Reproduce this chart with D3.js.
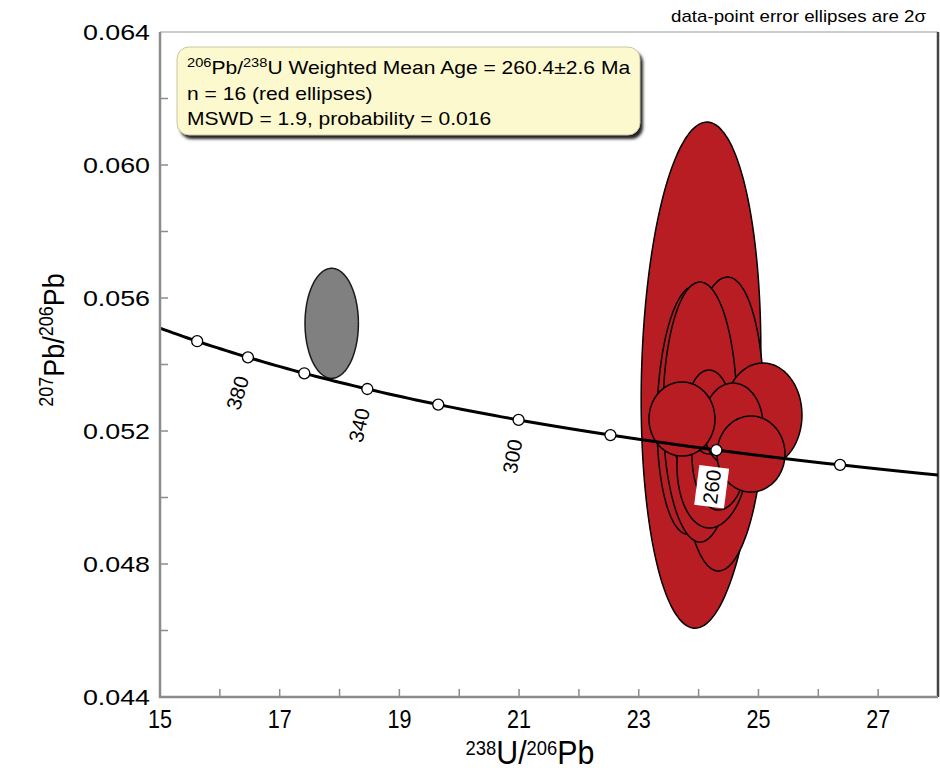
<!DOCTYPE html>
<html>
<head>
<meta charset="utf-8">
<script src="https://cdn.jsdelivr.net/npm/d3@7"></script>
<style>
  body { margin: 0; background: #fff; }
  svg { display: block; }
  text { font-family: "Liberation Sans", Arial, Helvetica, sans-serif; fill: #000; }
</style>
</head>
<body>
<svg id="chart" width="940" height="772"></svg>
<script>
// ---- axes ----
const xDomain = [15, 28];
const yDomain = [0.044, 0.064];
const xMinorTicks = [16, 17, 18, 19, 20, 21, 22, 23, 24, 25, 26, 27];
const xTickLabels = [15, 17, 19, 21, 23, 25, 27];
const yMinorTicks = [0.046, 0.048, 0.050, 0.052, 0.054, 0.056, 0.058, 0.060, 0.062];
const yTickLabels = [0.044, 0.048, 0.052, 0.056, 0.060, 0.064];

// ---- concordia (Tera-Wasserburg) ----
const LAMBDA238 = 1.55125e-10;
const LAMBDA235 = 9.8485e-10;
const U238_U235 = 137.88;
const concordiaAges = [240, 260, 280, 300, 320, 340, 360, 380, 400];
const labeledAges = [260, 300, 340, 380];

// ---- analyses: centre, 2-sigma errors, error correlation ----
// red = used in weighted mean (drawn in this order)
const redX    = [24.04, 24.106, 24.407, 23.872, 24.023, 23.939, 24.691, 24.440, 24.942, 24.240, 24.357, 25.075, 24.173, 24.574, 23.722, 24.875];
const redY    = [0.05368, 0.052932, 0.05221, 0.05263, 0.05257, 0.05203, 0.05203, 0.051579, 0.051729, 0.051188, 0.051368, 0.052481, 0.052571, 0.05218, 0.052361, 0.051308];
const redErrX = [1.0, 0.468, 0.685, 0.568, 0.618, 0.418, 0.418, 0.368, 0.418, 0.602, 0.468, 0.652, 0.368, 0.501, 0.551, 0.568];
const redErrY = [0.00761, 0.002857, 0.00442, 0.00373, 0.00391, 0.001203, 0.001053, 0.000902, 0.000902, 0.002105, 0.001744, 0.001564, 0.001263, 0.001263, 0.001113, 0.001143];
const redRho  = [0.10, 0.0, 0.11, 0.10, 0.0, 0.0, 0.0, 0.0, 0.0, 0.10, 0.05, 0.0, 0.0, 0.0, 0.0, 0.0];
// grey = rejected analysis
const greyX = [17.869];
const greyY = [0.055239];
const greyErrX = [0.446];
const greyErrY = [0.001654];
const greyRho = [0.0];

const legendLines = [
  [{t: "206", sup: true}, {t: "Pb/"}, {t: "238", sup: true}, {t: "U Weighted Mean Age = 260.4±2.6 Ma"}],
  [{t: "n = 16 (red ellipses)"}],
  [{t: "MSWD = 1.9, probability = 0.016"}]
];

// ---- layout ----
const svg = d3.select("#chart");
const plot = {left: 160, right: 938, top: 32, bottom: 697};
const x = d3.scaleLinear().domain(xDomain).range([plot.left, plot.right]);
const y = d3.scaleLinear().domain(yDomain).range([plot.bottom, plot.top]);

const defs = svg.append("defs");
defs.append("clipPath").attr("id", "plotClip")
  .append("rect").attr("x", plot.left).attr("y", plot.top)
  .attr("width", plot.right - plot.left).attr("height", plot.bottom - plot.top);
const blur = defs.append("filter").attr("id", "shadow").attr("x", -0.1).attr("y", -0.3).attr("width", 1.2).attr("height", 1.6);
blur.append("feGaussianBlur").attr("stdDeviation", 1.6);

// frame
svg.append("line").attr("x1", plot.left).attr("x2", plot.right).attr("y1", plot.top).attr("y2", plot.top)
  .attr("stroke", "#9a9a9a").attr("stroke-width", 1);
svg.append("line").attr("x1", plot.right).attr("x2", plot.right).attr("y1", plot.top).attr("y2", plot.bottom)
  .attr("stroke", "#444").attr("stroke-width", 2.5);

// ellipse outline from centre, errors and correlation
function ellipsePath(cx, cy, ex, ey, rho) {
  const s = Math.sqrt(1 - rho * rho);
  const pts = d3.range(0, 360, 2).map(a => {
    const t = a * Math.PI / 180;
    return [x(cx + ex * Math.cos(t)), y(cy + ey * (rho * Math.cos(t) + s * Math.sin(t)))];
  });
  return d3.line().curve(d3.curveCardinalClosed)(pts);
}

const gData = svg.append("g").attr("clip-path", "url(#plotClip)");
gData.selectAll("path.grey").data(greyX.map((v, i) => i)).join("path")
  .attr("class", "grey")
  .attr("d", i => ellipsePath(greyX[i], greyY[i], greyErrX[i], greyErrY[i], greyRho[i]))
  .attr("fill", "#808080").attr("stroke", "#1a1a1a").attr("stroke-width", 1.5);
gData.selectAll("path.red").data(redX.map((v, i) => i)).join("path")
  .attr("class", "red")
  .attr("d", i => ellipsePath(redX[i], redY[i], redErrX[i], redErrY[i], redRho[i]))
  .attr("fill", "#b81d24").attr("stroke", "#000").attr("stroke-width", 1.5);

// concordia curve
function tw(ageMa) {
  const t = ageMa * 1e6;
  const e8 = Math.expm1(LAMBDA238 * t);
  const e5 = Math.expm1(LAMBDA235 * t);
  return [1 / e8, e5 / e8 / U238_U235];
}
const curveAges = d3.range(220, 422, 2);
gData.append("path")
  .attr("d", d3.line().x(d => x(tw(d)[0])).y(d => y(tw(d)[1]))(curveAges))
  .attr("fill", "none").attr("stroke", "#000").attr("stroke-width", 3);

gData.selectAll("circle.age").data(concordiaAges).join("circle")
  .attr("class", "age")
  .attr("cx", d => x(tw(d)[0])).attr("cy", d => y(tw(d)[1])).attr("r", 5.5)
  .attr("fill", "#fff").attr("stroke", "#000").attr("stroke-width", 1.3);

// age labels, set perpendicular to the curve below each marker
const ageLabels = gData.selectAll("g.ageLabel").data(labeledAges).join("g")
  .attr("class", "ageLabel")
  .attr("transform", d => {
    const p = tw(d), q = tw(d - 1);
    const x0 = x(p[0]), y0 = y(p[1]);
    const ang = Math.atan2(y(q[1]) - y0, x(q[0]) - x0);
    const nx = -Math.sin(ang), ny = Math.cos(ang);
    const off = 37;
    return `translate(${x0 + nx * off},${y0 + ny * off}) rotate(${ang * 180 / Math.PI - 90})`;
  });
ageLabels.append("rect").attr("x", -20).attr("y", -15).attr("width", 40).attr("height", 30).attr("fill", "#fff");
ageLabels.append("text").attr("text-anchor", "middle").attr("dy", "0.36em")
  .style("font-size", "20.5px").text(d => d);

// axes
const axisColor = "#8c8c8c";
svg.append("line").attr("x1", plot.left).attr("x2", plot.left).attr("y1", plot.top).attr("y2", plot.bottom + 1)
  .attr("stroke", axisColor).attr("stroke-width", 2.5);
svg.append("line").attr("x1", plot.left - 1).attr("x2", plot.right).attr("y1", plot.bottom).attr("y2", plot.bottom)
  .attr("stroke", axisColor).attr("stroke-width", 2.5);
svg.selectAll("line.xt").data(xMinorTicks).join("line").attr("class", "xt")
  .attr("x1", d => x(d)).attr("x2", d => x(d)).attr("y1", plot.bottom).attr("y2", plot.bottom - 8)
  .attr("stroke", axisColor).attr("stroke-width", 1.5);
svg.selectAll("line.yt").data(yMinorTicks).join("line").attr("class", "yt")
  .attr("x1", plot.left).attr("x2", plot.left + 8).attr("y1", d => y(d)).attr("y2", d => y(d))
  .attr("stroke", axisColor).attr("stroke-width", 1.5);

svg.selectAll("text.xl").data(xTickLabels).join("text").attr("class", "xl")
  .attr("transform", d => `translate(${x(d)},728) scale(0.83,1)`)
  .attr("text-anchor", "middle").style("font-size", "26px").text(d => d);
svg.selectAll("text.yl").data(yTickLabels).join("text").attr("class", "yl")
  .attr("transform", d => `translate(150,${y(d) + 8}) scale(1.22,1)`)
  .attr("text-anchor", "end").style("font-size", "22px").text(d => d3.format(".3f")(d));

// text with superscript isotope masses (dy in px so the baseline returns exactly)
function isotopeText(sel, parts, supSize, rise) {
  let raised = false;
  parts.forEach(p => {
    const ts = sel.append("tspan").text(p.t);
    if (p.sup) {
      ts.style("font-size", supSize + "px");
      if (!raised) ts.attr("dy", -rise);
      raised = true;
    } else if (raised) {
      ts.attr("dy", rise);
      raised = false;
    }
  });
}

// axis titles
const xTitle = svg.append("text").attr("transform", "translate(530,764) scale(0.92,1)")
  .attr("text-anchor", "middle").style("font-size", "33px");
isotopeText(xTitle, [{t: "238", sup: true}, {t: "U/"}, {t: "206", sup: true}, {t: "Pb"}], 20, 9);

const yTitle = svg.append("text").attr("transform", "translate(64,340) rotate(-90) scale(0.9,1)")
  .attr("text-anchor", "middle").style("font-size", "30px");
isotopeText(yTitle, [{t: "207", sup: true}, {t: "Pb/"}, {t: "206", sup: true}, {t: "Pb"}], 20, 11);

// caption, top right
svg.append("text").attr("transform", "translate(926,22) scale(1.17,1)").attr("text-anchor", "end")
  .style("font-size", "16px").text("data-point error ellipses are 2σ");

// result box
const box = {x: 177, y: 47, w: 463, h: 88};
svg.append("rect").attr("x", box.x + 3).attr("y", box.y + 4).attr("width", box.w).attr("height", box.h)
  .attr("rx", 12).attr("fill", "#222").attr("filter", "url(#shadow)");
svg.append("rect").attr("x", box.x).attr("y", box.y).attr("width", box.w).attr("height", box.h)
  .attr("rx", 12).attr("fill", "#fcf9cf").attr("stroke", "#c9c6a6").attr("stroke-width", 1);
legendLines.forEach((line, i) => {
  const t = svg.append("text")
    .attr("transform", `translate(187,${74 + i * 25.5}) scale(1.17,1)`)
    .style("font-size", "18px");
  isotopeText(t, line, 12.5, 7);
});
</script>
</body>
</html>
